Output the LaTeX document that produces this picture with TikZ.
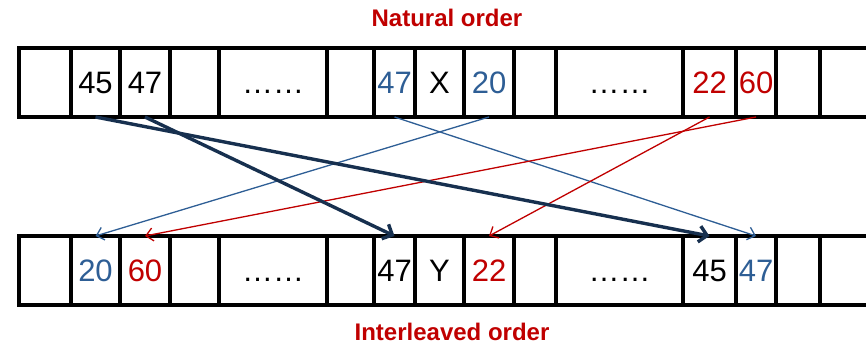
\documentclass[tikz,border=0pt]{standalone}
\usepackage{fontspec}
\setmainfont{Liberation Sans}
\usetikzlibrary{arrows.meta}
\definecolor{nred}{HTML}{C00000}
\definecolor{nblue}{HTML}{2E5E95}
\definecolor{navy}{HTML}{17304F}
\tikzset{
  cell/.style={draw=black, line width=3.2pt, inner sep=0pt, outer sep=0pt, minimum height=69pt,
    text height=22pt, text depth=0pt, font=\fontsize{31}{33}\selectfont},
  title/.style={text=nred, font=\fontsize{24}{26}\selectfont\bfseries},
  thickarr/.style={navy, line width=3.4pt, -{Straight Barb[length=8pt,width=16pt]}},
  bluearr/.style={nblue, line width=1.3pt, -{Straight Barb[length=7pt,width=13pt]}},
  redarr/.style={nred, line width=1.3pt, -{Straight Barb[length=7pt,width=13pt]}},
  rowline/.style={line width=3.2pt}
}
\begin{document}
\begin{tikzpicture}[x=1pt,y=-1pt]
\useasboundingbox (0,0) rectangle (866,345);
\node[title] (nat) at (447,18) {Natural order};
\node[title] (inter) at (452,332) {Interleaved order};
% top row
\foreach \n/\a/\b/\txt in {1/19/71/{},2/71/120/45,3/120/170/47,4/170/219/{},5/219/327/……,
  6/327/374/{},7/374/415/\textcolor{nblue}{47},8/415/464/X,9/464/514/\textcolor{nblue}{20},
  10/514/556/{},11/556/683/……,12/683/736/\textcolor{nred}{22},13/736/776/\textcolor{nred}{60},14/776/820/{}}
  {\node[cell, minimum width={(\b-\a)*1pt}] (t\n) at ({(\a+\b)/2},82.5) {\txt};}
% bottom row
\foreach \n/\a/\b/\txt in {1/19/71/{},2/71/120/\textcolor{nblue}{20},3/120/170/\textcolor{nred}{60},4/170/219/{},5/219/327/……,
  6/327/374/{},7/374/415/47,8/415/464/Y,9/464/514/\textcolor{nred}{22},
  10/514/556/{},11/556/683/……,12/683/736/45,13/736/776/\textcolor{nblue}{47},14/776/820/{}}
  {\node[cell, minimum width={(\b-\a)*1pt}] (b\n) at ({(\a+\b)/2},270.5) {\txt};}
\coordinate (tNE) at (870,48);
\coordinate (tSE) at (870,117);
\coordinate (bNE) at (870,236);
\coordinate (bSE) at (870,305);
\draw[rowline] (t14.north east) -- (tNE);
\draw[rowline] (t14.south east) -- (tSE);
\draw[rowline] (b14.north east) -- (bNE);
\draw[rowline] (b14.south east) -- (bSE);
% arrows
\draw[bluearr] (t7.south) -- (b13.north);
\draw[bluearr] (t9.south) -- (b2.north);
\draw[redarr] (t13.south) -- (b3.north);
\draw[redarr] (t12.south) -- (b9.north);
\draw[thickarr] (t2.south) -- (b12.north);
\draw[thickarr] (t3.south) -- (b7.north);
\end{tikzpicture}
\end{document}
